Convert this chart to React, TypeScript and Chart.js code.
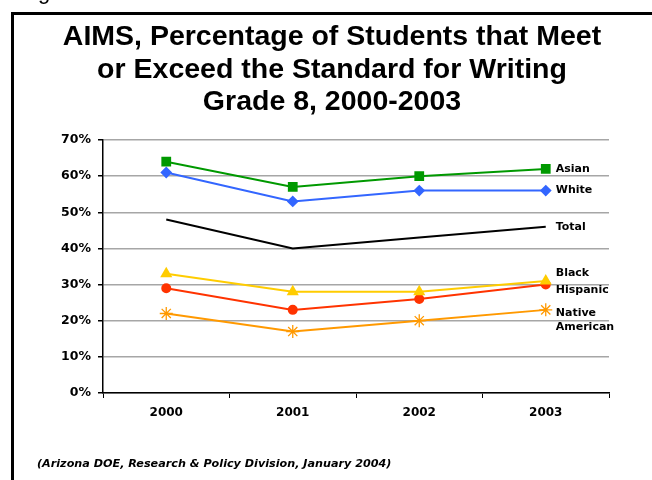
import React, { useEffect, useRef } from "react";
import { Chart, registerables } from "chart.js";

Chart.register(...registerables);

const years = ["2000", "2001", "2002", "2003"];
const asian = [64, 57, 60, 62];
const white = [61, 53, 56, 56];
const total = [48, 40, 43, 46];
const black = [33, 28, 28, 31];
const hispanic = [29, 23, 26, 30];
const nativeAmerican = [22, 17, 20, 23];

const titleLines = [
  "AIMS, Percentage of Students that Meet",
  "or Exceed the Standard for Writing",
  "Grade 8, 2000-2003",
];
const sourceNote = "(Arizona DOE, Research & Policy Division, January 2004)";

// label lines and vertical nudge for the text placed right of each series' last point
const endLabels: { lines: string[]; dy: number }[] = [
  { lines: ["Asian"], dy: 0 },
  { lines: ["White"], dy: 0 },
  { lines: ["Total"], dy: 0 },
  { lines: ["Black"], dy: -8 },
  { lines: ["Hispanic"], dy: 6 },
  { lines: ["Native", "American"], dy: 3 },
];

const frameAndText = {
  id: "frameAndText",
  beforeDraw(chart: any) {
    const ctx = chart.ctx;
    ctx.save();
    ctx.fillStyle = "#fff";
    ctx.fillRect(0, 0, chart.width, chart.height);
    ctx.fillStyle = "#000";
    // frame: left and top edges
    ctx.fillRect(11, 12, 3, chart.height - 12);
    ctx.fillRect(11, 12, chart.width - 11, 3);
    // clipped heading fragment above the frame
    ctx.font = "22px 'Liberation Sans', Arial, sans-serif";
    ctx.textBaseline = "alphabetic";
    ctx.textAlign = "left";
    ctx.fillText("g", 38, -1);
    ctx.restore();
  },
  afterDraw(chart: any) {
    const ctx = chart.ctx;
    ctx.save();
    ctx.fillStyle = "#000";
    ctx.textAlign = "center";
    ctx.textBaseline = "middle";
    ctx.font = "bold 28.5px 'Liberation Sans', Arial, sans-serif";
    const titleY = [37, 70, 102];
    titleLines.forEach((t, i) => ctx.fillText(t, 332, titleY[i]));

    ctx.textAlign = "left";
    ctx.font = "italic bold 11.2px 'DejaVu Sans', Verdana, sans-serif";
    ctx.fillText(sourceNote, 37, 464);

    ctx.font = "bold 11px 'DejaVu Sans', Verdana, sans-serif";
    chart.data.datasets.forEach((ds: any, i: number) => {
      const meta = chart.getDatasetMeta(i);
      const pt = meta.data[meta.data.length - 1];
      const lab = endLabels[i];
      if (!pt || !lab) return;
      lab.lines.forEach((line, j) => {
        ctx.fillText(line, pt.x + 10, pt.y + lab.dy + j * 14);
      });
    });
    ctx.restore();
  },
};

export default function App() {
  const ref = useRef<HTMLCanvasElement | null>(null);

  useEffect(() => {
    if (!ref.current) return;
    const tickFont = { family: "'DejaVu Sans', Verdana, sans-serif", size: 12.5, weight: "bold" as const };
    const chart = new Chart(ref.current, {
      type: "line",
      data: {
        labels: years,
        datasets: [
          {
            label: "Asian",
            data: asian,
            borderColor: "#009900",
            backgroundColor: "#009900",
            pointStyle: "rect",
            pointRadius: 5.5,
            borderWidth: 2,
          },
          {
            label: "White",
            data: white,
            borderColor: "#3366FF",
            backgroundColor: "#3366FF",
            pointStyle: "rectRot",
            pointRadius: 4.5,
            borderWidth: 2,
          },
          {
            label: "Total",
            data: total,
            borderColor: "#000000",
            backgroundColor: "#000000",
            pointRadius: 0,
            borderWidth: 2,
          },
          {
            label: "Black",
            data: black,
            borderColor: "#FFCC00",
            backgroundColor: "#FFCC00",
            pointStyle: "triangle",
            pointRadius: 5,
            borderWidth: 2,
          },
          {
            label: "Hispanic",
            data: hispanic,
            borderColor: "#FF3300",
            backgroundColor: "#FF3300",
            pointStyle: "circle",
            pointRadius: 4,
            borderWidth: 2,
          },
          {
            label: "Native American",
            data: nativeAmerican,
            borderColor: "#FF9900",
            backgroundColor: "#FF9900",
            pointStyle: "star",
            pointRadius: 6.5,
            pointBorderWidth: 1.3,
            borderWidth: 2,
          },
        ],
      },
      options: {
        animation: false,
        responsive: false,
        devicePixelRatio: 1,
        layout: { padding: { top: 140, right: 43, bottom: 0, left: 0 } },
        plugins: {
          legend: { display: false },
          tooltip: { enabled: false },
          title: { display: false },
        },
        scales: {
          x: {
            type: "category",
            offset: true,
            grid: {
              display: true,
              offset: true,
              drawOnChartArea: false,
              tickLength: 5,
              tickColor: "#000",
            },
            border: { color: "#000", width: 1.5 },
            ticks: { color: "#000", font: { ...tickFont, size: 12 }, padding: 8, maxRotation: 0 },
            afterFit: (s: any) => {
              s.height = 87;
            },
          },
          y: {
            min: 0,
            max: 70,
            ticks: {
              stepSize: 10,
              color: "#000",
              font: tickFont,
              padding: 7,
              callback: (v: any) => v + "%",
            },
            grid: {
              color: "#A6A6A6",
              lineWidth: 1.5,
              tickLength: 5,
              tickColor: "#000",
            },
            border: { color: "#000", width: 1.5 },
            afterFit: (s: any) => {
              s.width = 103;
            },
          },
        },
      },
      plugins: [frameAndText],
    });
    return () => chart.destroy();
  }, []);

  return (
    <div style={{ position: "absolute", left: 0, top: 0, width: 652, height: 480, overflow: "hidden", background: "#fff" }}>
      <canvas ref={ref} width={652} height={480} style={{ display: "block", width: 652, height: 480 }} />
    </div>
  );
}
